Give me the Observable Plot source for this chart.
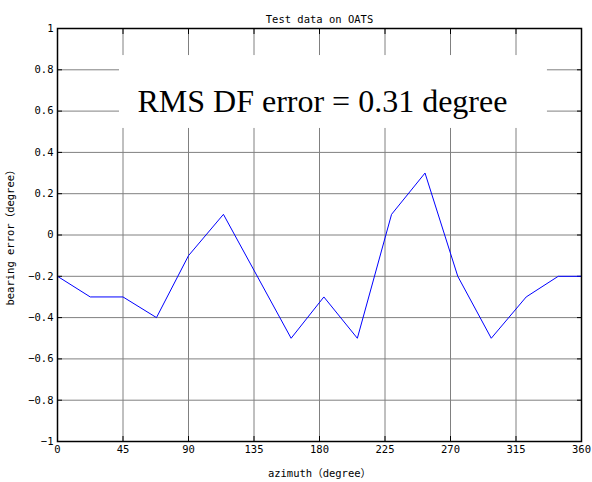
<!DOCTYPE html>
<html><head><meta charset="utf-8">
<script src="https://cdn.jsdelivr.net/npm/d3@7"></script>
<script src="https://cdn.jsdelivr.net/npm/@observablehq/plot@0.6"></script>
<style>body{margin:0;background:#fff}</style>
</head><body><div id="chart"></div>
<script>
const azimuth = [0, 22.5, 45, 68, 90, 114, 160.5, 183, 206, 229.5, 252.5, 275, 298, 322, 344, 360];
const bearingError = [-0.2, -0.3, -0.3, -0.4, -0.1, 0.1, -0.5, -0.3, -0.5, 0.1, 0.3, -0.2, -0.5, -0.3, -0.2, -0.2];
const xTicks = [0, 45, 90, 135, 180, 225, 270, 315, 360];
const yTicks = [-1, -0.8, -0.6, -0.4, -0.2, 0, 0.2, 0.4, 0.6, 0.8, 1];
const title = "Test data on OATS";
const xLabel = "azimuth（degree）";
const yLabel = "bearing error（degree）";
const annotation = "RMS DF error = 0.31 degree";
const annotationBox = [{x1: 42.6, x2: 336.6, y1: 0.516, y2: 0.869}];
const annotationPos = [{x: 182, y: 0.646, text: annotation}];

const data = azimuth.map((a, i) => ({azimuth: a, error: bearingError[i]}));
const font = "'DejaVu Sans Mono', 'Noto Sans CJK JP', monospace";
const noLabel = () => "";
const fmt = d3.format("~g");

const chart = Plot.plot({
  width: 592, height: 482,
  marginLeft: 57, marginRight: 11, marginTop: 28, marginBottom: 41,
  style: {fontFamily: font, fontSize: "10.5px", background: "#fff", color: "#000"},
  x: {domain: [0, 360], ticks: xTicks},
  y: {domain: [-1, 1], ticks: yTicks},
  marks: [
    Plot.gridX(xTicks, {stroke: "#808080", strokeOpacity: 1}),
    Plot.gridY(yTicks, {stroke: "#808080", strokeOpacity: 1}),
    Plot.rect(annotationBox, {x1: "x1", x2: "x2", y1: "y1", y2: "y2", fill: "white"}),
    Plot.axisX(xTicks, {anchor: "bottom", tickSize: 0, tickPadding: 4, tickFormat: fmt, label: xLabel, labelAnchor: "center", labelOffset: 35, labelArrow: "none"}),
    Plot.axisY(yTicks, {anchor: "left", tickSize: 0, tickPadding: 4, tickFormat: fmt, label: yLabel, labelAnchor: "center", labelOffset: 51, labelArrow: "none"}),
    Plot.axisX(xTicks, {anchor: "bottom", tickSize: -5, tickFormat: noLabel, label: null}),
    Plot.axisX(xTicks, {anchor: "top", tickSize: -5, tickFormat: noLabel, label: null}),
    Plot.axisY(yTicks, {anchor: "left", tickSize: -5, tickFormat: noLabel, label: null}),
    Plot.axisY(yTicks, {anchor: "right", tickSize: -5, tickFormat: noLabel, label: null}),
    Plot.line(data, {x: "azimuth", y: "error", stroke: "#0000ff", strokeWidth: 1}),
    Plot.text(annotationPos, {x: "x", y: "y", text: "text", fontFamily: "'Liberation Serif', 'Times New Roman', serif", fontSize: 32, fill: "black"}),
    Plot.frame({stroke: "black", strokeWidth: 1.5}),
    Plot.text([title], {frameAnchor: "top", dy: -13, fontSize: 10.5})
  ]
});
document.getElementById("chart").append(chart);
</script>
</body></html>
